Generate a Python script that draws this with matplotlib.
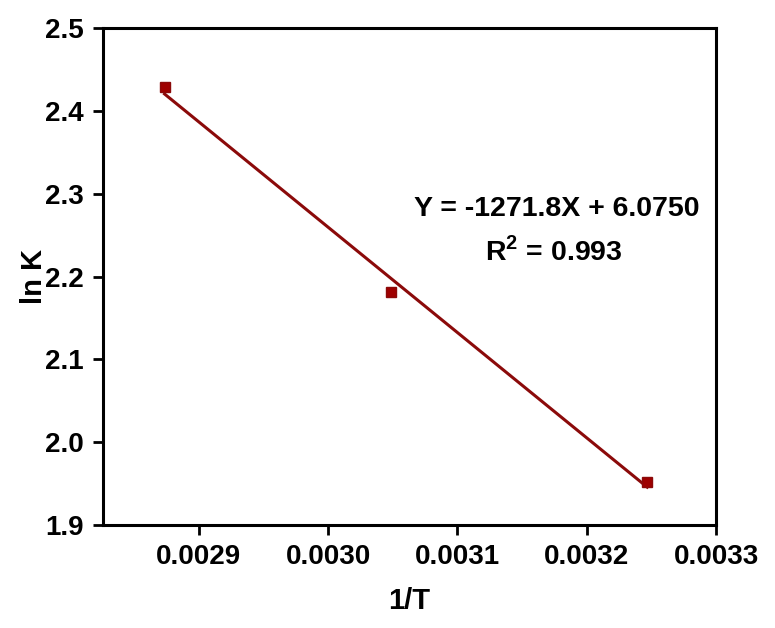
import numpy as np
import matplotlib
matplotlib.use("Agg")
import matplotlib.pyplot as plt
from matplotlib.ticker import FormatStrFormatter

# data
inv_T = [0.0028736, 0.0030488, 0.0032468]
ln_K = [2.4287, 2.1808, 1.9520]
slope = -1271.8
intercept = 6.0750
r2 = 0.993

plt.rcParams['font.family'] = ['Liberation Sans', 'DejaVu Sans']
plt.rcParams['font.weight'] = 'bold'
plt.rcParams['mathtext.fontset'] = 'custom'
plt.rcParams['mathtext.bf'] = 'Liberation Sans:bold'

fig = plt.figure(figsize=(7.75, 6.28), dpi=100)
ax = fig.add_axes([0.1329, 0.164, 0.791, 0.7914])

red = '#8B0A0A'
x_fit = np.array([min(inv_T), max(inv_T)])
ax.plot(x_fit, slope * x_fit + intercept, color=red, lw=2.2, zorder=2)
ax.plot(inv_T, ln_K, 's', color='#9E0000', markersize=7.5, markeredgecolor='#8B0A0A', zorder=3)

ax.set_xlim(0.002826, 0.0033)
ax.set_ylim(1.9, 2.5)
ax.set_xticks([0.0029, 0.0030, 0.0031, 0.0032, 0.0033])
ax.set_yticks([1.9, 2.0, 2.1, 2.2, 2.3, 2.4, 2.5])
ax.xaxis.set_major_formatter(FormatStrFormatter('%.4f'))
ax.yaxis.set_major_formatter(FormatStrFormatter('%.1f'))

for s in ax.spines.values():
    s.set_linewidth(2.2)
ax.tick_params(axis='both', which='major', direction='out', length=7, width=2,
               labelsize=20, pad=7)
for lbl in ax.get_xticklabels() + ax.get_yticklabels():
    lbl.set_fontweight('bold')

ax.set_xlabel('1/T', fontsize=21, fontweight='bold', labelpad=12)
ax.set_ylabel('ln K', fontsize=21, fontweight='bold', labelpad=-2)

ax.text(0.74, 0.636, 'Y = %.1fX + %.4f' % (slope, intercept), transform=ax.transAxes,
        ha='center', va='center', fontsize=20.5, fontweight='bold')
ax.text(0.735, 0.55, r'R$^{\mathbf{2}}$ = %.3f' % r2, transform=ax.transAxes,
        ha='center', va='center', fontsize=20.5, fontweight='bold')

fig.savefig('out.png', dpi=100)
